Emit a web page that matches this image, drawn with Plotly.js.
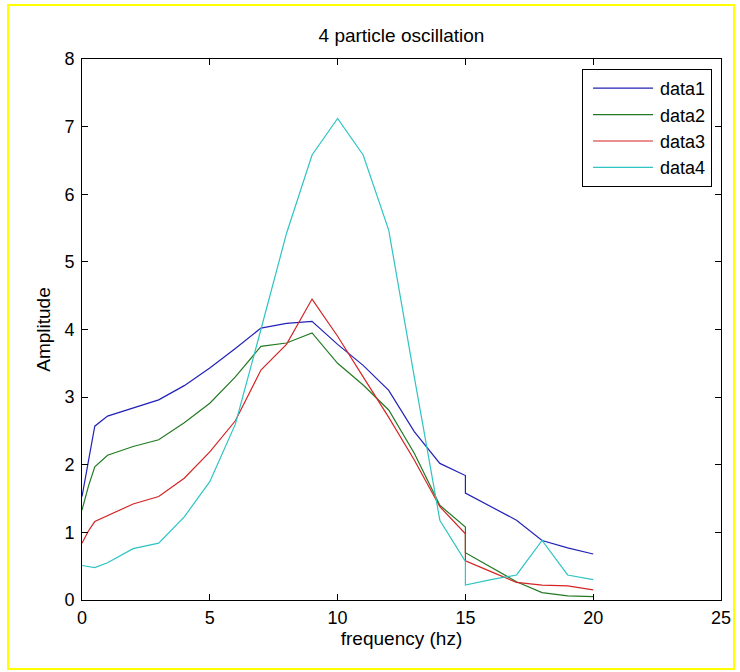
<!DOCTYPE html>
<html>
<head>
<meta charset="utf-8">
<script src="https://cdn.plot.ly/plotly-3.0.1.min.js"></script>
<style>
  html, body { margin: 0; padding: 0; background: #ffffff; }
  #chart { width: 740px; height: 672px; }
  #frame { position: absolute; left: 7px; top: 4px; width: 724px; height: 662px;
           border: 2px solid #ffff00; pointer-events: none; z-index: 10; }
</style>
</head>
<body>
<div id="frame"></div>
<div id="chart"></div>
<script>
// frequency values (two samples at 15 give the vertical jump)
const freq = [0, 0.25, 0.5, 1, 2, 3, 4, 5, 6, 7, 8, 9, 10, 11, 12, 13, 14, 15, 15, 16, 17, 18, 19, 20];

const data1 = [1.53, 2.03, 2.57, 2.72, 2.84, 2.96, 3.17, 3.43, 3.72, 4.02, 4.09, 4.12, 3.78, 3.47, 3.10, 2.49, 2.02, 1.84, 1.58, 1.38, 1.18, 0.88, 0.77, 0.68];
const data2 = [1.33, 1.68, 1.97, 2.14, 2.27, 2.37, 2.62, 2.91, 3.30, 3.75, 3.80, 3.95, 3.50, 3.18, 2.81, 2.17, 1.40, 1.08, 0.70, 0.49, 0.27, 0.11, 0.06, 0.05];
const data3 = [0.84, 1.02, 1.16, 1.25, 1.42, 1.53, 1.80, 2.19, 2.65, 3.40, 3.78, 4.45, 3.90, 3.30, 2.70, 2.07, 1.38, 0.98, 0.58, 0.42, 0.26, 0.22, 0.21, 0.15];
const data4 = [0.51, 0.49, 0.48, 0.55, 0.76, 0.84, 1.23, 1.75, 2.60, 4.00, 5.42, 6.58, 7.12, 6.58, 5.47, 3.30, 1.18, 0.57, 0.22, 0.30, 0.37, 0.88, 0.37, 0.30];

const seriesNames = ['data1', 'data2', 'data3', 'data4'];
const seriesValues = [data1, data2, data3, data4];
const seriesColors = ['#2222b8', '#247a24', '#d42424', '#2ec4c4'];

const xTicks = [0, 5, 10, 15, 20, 25];
const yTicks = [0, 1, 2, 3, 4, 5, 6, 7, 8];

const FONT = "'Liberation Sans', Arial, sans-serif";

const traces = seriesValues.map((vals, i) => ({
  x: freq, y: vals, type: 'scatter', mode: 'lines', name: seriesNames[i],
  legendgroup: 'g' + i,
  line: { color: seriesColors[i], width: 1.2 }
}));

const axisCommon = {
  showgrid: false, zeroline: false, showline: true, linecolor: '#000000', linewidth: 1,
  mirror: 'ticks', ticks: 'inside', ticklen: 6, tickcolor: '#000000',
  tickfont: { family: FONT, size: 18, color: '#000000' }
};

const layout = {
  width: 740, height: 672,
  margin: { l: 82, r: 19, t: 59, b: 72 },
  paper_bgcolor: 'rgba(0,0,0,0)', plot_bgcolor: '#ffffff',
  showlegend: true,
  title: { text: '4 particle oscillation', font: { family: FONT, size: 19, color: '#000000' },
           x: 0.5425, xanchor: 'center', y: 0.947, yanchor: 'middle' },
  xaxis: Object.assign({}, axisCommon, {
    range: [0, 25], tickvals: xTicks, ticktext: xTicks.map(String), ticklabelstandoff: 1,
    title: { text: 'frequency (hz)', font: { family: FONT, size: 19, color: '#000000' }, standoff: 0 }
  }),
  yaxis: Object.assign({}, axisCommon, {
    range: [0, 8], tickvals: yTicks, ticktext: yTicks.map(String), ticklabelstandoff: 3,
    title: { text: 'Amplitude', font: { family: FONT, size: 19, color: '#000000' }, standoff: 8 }
  }),
  legend: {
    x: 0.986, xanchor: 'right', y: 0.9815, yanchor: 'top',
    bgcolor: '#ffffff', bordercolor: '#000000', borderwidth: 1,
    font: { family: FONT, size: 18, color: '#000000' },
    itemwidth: 67, tracegroupgap: 0
  }
};

Plotly.newPlot('chart', traces, layout, { displayModeBar: false, staticPlot: true }).then(gd => {
  // lengthen the legend sample lines to match the reference
  gd.querySelectorAll('.legend .legendlines path').forEach(p => p.setAttribute('d', 'M10,0h60'));
});
</script>
</body>
</html>
